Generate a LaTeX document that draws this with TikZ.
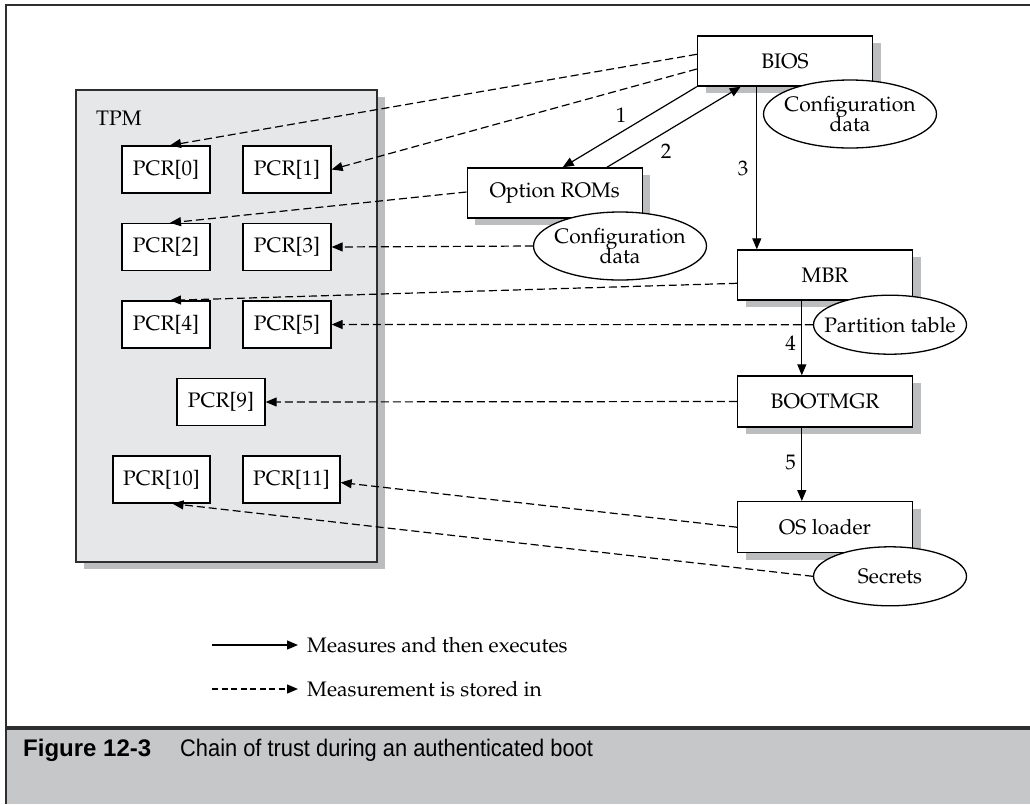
\documentclass[tikz,border=0pt]{standalone}
\usepackage[T1]{fontenc}
\usepackage{fontspec}
\setmainfont{Liberation Serif}
\newfontfamily\capfont{Liberation Sans}
\newfontfamily\capfontn{Liberation Sans}[FakeStretch=0.91]
\usetikzlibrary{shapes.geometric,arrows.meta,calc,shadows}
\newcommand\pal{\fontencoding{T1}\fontfamily{ppl}\selectfont}
\newcommand\zw[1]{\makebox[0pt]{#1}}
\definecolor{shgray}{HTML}{BCBDBF}
\definecolor{tpmgray}{HTML}{E6E7E8}
\definecolor{capgray}{HTML}{C6C7C9}
\definecolor{framec}{HTML}{2E2E2E}
\begin{document}
\begin{tikzpicture}[x=1pt,y=-1pt,
  txt/.style={font=\pal\fontsize{21}{23}\selectfont},
  box/.style={draw, line width=1.4pt, fill=white, minimum width=175pt, minimum height=50pt, inner sep=0pt, txt,
    drop shadow={shadow xshift=8pt, shadow yshift=-7pt, opacity=1, fill=shgray}},
  pcr/.style={draw, line width=1.3pt, fill=white, minimum width=88pt, minimum height=47pt, inner sep=0pt, txt},
  ell/.style={ellipse, draw, line width=1.3pt, fill=white, inner sep=0pt, align=center, txt},
  lab/.style={txt, inner sep=0pt},
  solidarrow/.style={line width=1.2pt, -{Triangle[length=11pt,width=9pt]}},
  dasharrow/.style={line width=1.2pt, dash pattern=on 8pt off 4pt, -{Triangle[length=11pt,width=9pt]}},
  legdash/.style={line width=1.2pt, dash pattern=on 6pt off 3.5pt, -{Triangle[length=11pt,width=9pt]}}
]
\useasboundingbox (0,0) rectangle (1030,804);
% frame
\fill[capgray] (6,728) rectangle (1030,804);
\draw[framec, line width=2.5pt] (1030,5) -- (6,5) -- (6,804);
\draw[framec, line width=4pt] (6,728) -- (1030,728);

% TPM
\fill[shgray] (84,97) rectangle (385,569);
\draw[fill=tpmgray, line width=1.4pt, draw=framec] (76,90) rectangle (377,562);
\node[lab, anchor=west] (tpm) at (96,118) {TPM};

\node[pcr] (p0) at (166,169.5) {PCR[0]};
\node[pcr] (p1) at (287,169.5) {PCR[1]};
\node[pcr] (p2) at (166,247) {PCR[2]};
\node[pcr] (p3) at (287,247) {PCR[3]};
\node[pcr] (p4) at (166,324.5) {PCR[4]};
\node[pcr] (p5) at (287,324.5) {PCR[5]};
\node[pcr] (p9) at (221,402) {PCR[9]};
\node[pcr, minimum width=97pt] (p10) at (161.5,479.5) {PCR[10]};
\node[pcr, minimum width=97pt] (p11) at (291.5,479.5) {PCR[11]};

% boxes
\node[box] (bios) at (785,61) {BIOS};
\node[box] (rom) at (554.7,193) {Option ROMs};
\node[box] (mbr) at (825,275) {MBR};
\node[box, minimum height=51pt] (bmgr) at (825,401.5) {BOOTMGR};
\node[box, minimum height=51pt] (osl) at (825,527.2) {OS loader};

% ellipses
\node[ell, minimum width=173pt, minimum height=68pt] (cfg1) at (850,114) {\zw{Configuration}\\[-3pt]\zw{data}};
\node[ell, minimum width=173pt, minimum height=68pt] (cfg2) at (620,246) {\zw{Configuration}\\[-3pt]\zw{data}};
\node[ell, minimum width=153pt, minimum height=59pt] (part) at (890,324.7) {\zw{Partition table}};
\node[ell, minimum width=153pt, minimum height=59pt] (sec) at (890,576.3) {\zw{Secrets}};

% solid arrows
\draw[solidarrow] (bios.south west) -- ($(rom.north)+(8,0)$);
\draw[solidarrow] ($(rom.north)+(52.2,0)$) -- ($(bios.south)+(-44.3,0)$);
\draw[solidarrow] ($(bios.south)+(-28.2,0)$) -- ($(mbr.north)+(-68.2,0)$);
\draw[solidarrow] ($(mbr.south)+(-23.2,0)$) -- ($(bmgr.north)+(-23.2,0)$);
\draw[solidarrow] ($(bmgr.south)+(-23.2,0)$) -- ($(osl.north)+(-23.2,0)$);
\node[lab] (l1) at (621,115) {1};
\node[lab] (l2) at (666,151) {2};
\node[lab] (l3) at (743,168) {3};
\node[lab] (l4) at (790.5,343) {4};
\node[lab] (l5) at (790.5,462) {5};

% dashed arrows
\draw[dasharrow] ($(bios.west)+(0,-6.7)$) -- ($(p0.north)+(4,0)$);
\draw[dasharrow] ($(bios.west)+(0,8)$) -- (p1.east);
\draw[dasharrow] ($(rom.west)+(0,-1)$) -- ($(p2.north)+(4,0)$);
\draw[dasharrow] (cfg2.west) -- (p3.east);
\draw[dasharrow] ($(mbr.west)+(0,8.3)$) -- ($(p4.north)+(4,0)$);
\draw[dasharrow] (part.west) -- (p5.east);
\draw[dasharrow] (bmgr.west) -- (p9.east);
\draw[dasharrow] (osl.west) -- ($(p11.east)+(0,3)$);
\draw[dasharrow] (sec.west) -- ($(p10.south)+(11,0)$);

% legend
\coordinate (ls1) at (212,645);
\coordinate (le1) at (298,645);
\coordinate (ls2) at (212,689);
\coordinate (le2) at (298,689);
\draw[solidarrow] (ls1) -- (le1);
\draw[legdash] (ls2) -- (le2);
\node[lab, anchor=west] (t1) at (307,645) {Measures and then executes};
\node[lab, anchor=west] (t2) at (307,689) {Measurement is stored in};

% caption
\node[anchor=base west, inner sep=0pt, font=\capfont\bfseries\fontsize{24}{26}\selectfont] (fig) at (23,756) {Figure 12-3};
\node[anchor=base west, inner sep=0pt, font=\capfontn\fontsize{24}{26}\selectfont] (cap) at (180,756) {Chain of trust during an authenticated boot};
\end{tikzpicture}
\end{document}
